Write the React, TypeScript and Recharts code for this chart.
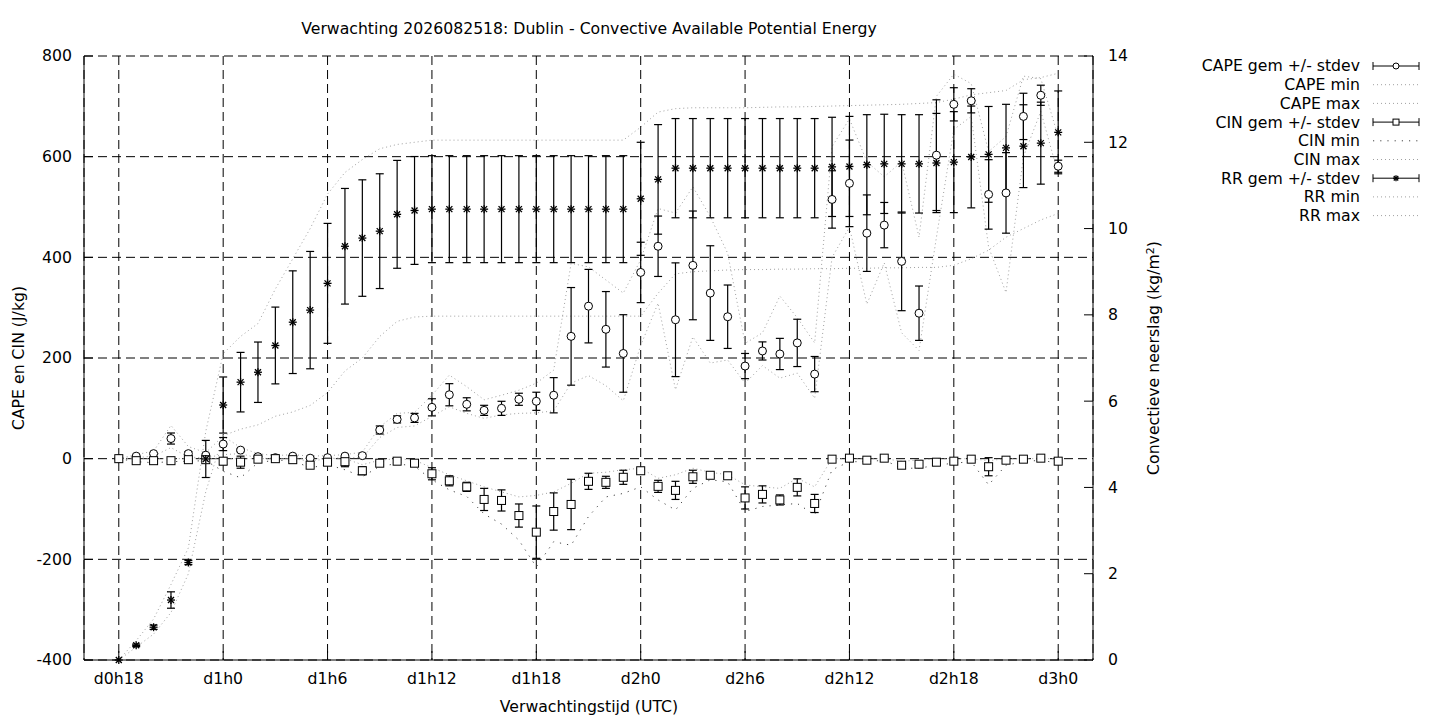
import { ComposedChart, Line, Scatter, ErrorBar, XAxis, YAxis, CartesianGrid } from "recharts";

// forecast hours since d0h0
const hours = [
  18, 19, 20, 21, 22, 23, 24, 25, 26, 27, 28, 29, 30, 31, 32, 33, 34, 35, 36,
  37, 38, 39, 40, 41, 42, 43, 44, 45, 46, 47, 48, 49, 50, 51, 52, 53, 54, 55,
  56, 57, 58, 59, 60, 61, 62, 63, 64, 65, 66, 67, 68, 69, 70, 71, 72,
];

// CAPE (J/kg)
const capeMean = [
  0, 5, 10, 40, 10, 7, 29, 17, 4, 2, 5, 1, 2, 5, 6, 57, 78, 81, 102,
  127, 108, 96, 100, 118, 114, 126, 243, 303, 257, 209, 370, 422, 276, 384, 329, 282, 184, 214,
  208, 230, 168, 515, 547, 448, 464, 392, 289, 603, 704, 711, 525, 528, 680, 722, 581,
];
const capeSd = [
  0, 2, 2, 11, 4, 3, 13, 3, 2, 2, 2, 1, 2, 2, 3, 8, 7, 9, 17,
  22, 13, 10, 14, 12, 18, 35, 97, 73, 75, 77, 60, 60, 113, 108, 94, 63, 25, 18,
  31, 47, 35, 57, 86, 76, 45, 98, 54, 110, 33, 24, 69, 80, 46, 20, 12,
];
const capeMin = [
  0, 2, 5, 22, 3, 2, 8, 10, 1, 0, 1, 0, 0, 2, 2, 42, 62, 65, 84,
  103, 90, 80, 87, 90, 91, 95, 150, 165, 145, 115, 225, 309, 137, 242, 190, 196, 150, 185,
  160, 170, 120, 400, 460, 307, 389, 250, 215, 440, 654, 680, 420, 330, 600, 690, 565,
];
const capeMax = [
  0, 8, 15, 66, 24, 12, 45, 22, 10, 6, 8, 5, 6, 8, 13, 63, 90, 92, 126,
  166, 143, 117, 126, 136, 150, 176, 388, 381, 355, 329, 395, 497, 488, 540, 481, 408, 229, 250,
  323, 280, 230, 620, 675, 590, 560, 590, 440, 720, 764, 745, 610, 640, 760, 755, 640,
];

// CIN (J/kg)
const cinMean = [
  0, -4, -4, -4, -2, -2, -5, -7, -1, 0, -2, -13, -7, -6, -24, -9, -5, -9, -30,
  -44, -56, -81, -83, -113, -146, -105, -91, -45, -47, -37, -24, -55, -63, -36, -33, -34, -78, -71,
  -82, -57, -89, -1, 1, -3, 1, -13, -11, -7, -5, -1, -16, -3, -1, 1, -5,
];
const cinSd = [
  1, 2, 1, 1, 2, 2, 7, 12, 2, 2, 2, 3, 3, 10, 8, 3, 2, 5, 12,
  10, 9, 22, 21, 23, 52, 37, 50, 16, 12, 14, 4, 12, 18, 13, 4, 3, 22, 17,
  10, 17, 18, 2, 2, 2, 2, 3, 3, 2, 2, 2, 18, 2, 2, 2, 2,
];
const cinMin = [
  0, -6, -8, -6, -5, -4, -25, -38, -8, -3, -4, -18, -12, -22, -36, -15, -10, -15, -42,
  -62, -75, -110, -130, -162, -215, -165, -172, -115, -76, -69, -56, -82, -102, -59, -42, -46, -105, -95,
  -92, -89, -112, -22, -6, -6, -3, -19, -19, -13, -9, -6, -52, -13, -6, -3, -9,
];
const cinMax = [
  0, 0, 0, 0, 0, 0, 0, 0, 0, 0, 0, -5, 0, 0, -12, -3, 0, -3, -18,
  -32, -44, -56, -66, -76, -73, -66, -49, -29, -27, -22, -19, -39, -32, -19, -27, -32, -52, -56,
  -59, -39, -56, 0, 0, 0, 0, -5, -3, 0, 0, 0, -4, 0, 0, 0, 0,
];

// convective precipitation (kg/m2)
const rrMean = [
  0, 0.34, 0.76, 1.39, 2.26, 4.66, 5.91, 6.44, 6.67, 7.29, 7.83, 8.11, 8.73, 9.59, 9.78, 9.94, 10.33, 10.42, 10.45,
  10.45, 10.45, 10.45, 10.45, 10.45, 10.45, 10.45, 10.45, 10.45, 10.45, 10.45, 10.69, 11.14, 11.4, 11.4, 11.4, 11.4, 11.4, 11.4,
  11.4, 11.4, 11.4, 11.43, 11.44, 11.48, 11.5, 11.5, 11.5, 11.52, 11.54, 11.66, 11.72, 11.87, 11.91, 11.98, 12.23,
];
const rrSd = [
  0, 0.03, 0.05, 0.19, 0.05, 0.43, 0.65, 0.69, 0.7, 0.89, 1.19, 1.36, 1.39, 1.34, 1.35, 1.33, 1.25, 1.25, 1.24,
  1.24, 1.24, 1.24, 1.24, 1.24, 1.24, 1.24, 1.24, 1.24, 1.24, 1.24, 1.31, 1.27, 1.15, 1.15, 1.15, 1.15, 1.15, 1.15,
  1.15, 1.15, 1.15, 1.15, 1.16, 1.16, 1.15, 1.14, 1.14, 1.15, 1.17, 1.18, 1.11, 1.01, 0.96, 0.95, 0.96,
];
const rrMin = [
  0, 0.3, 0.6, 1.1, 2.0, 3.9, 5.2, 5.35, 5.45, 5.65, 5.75, 5.9, 6.2, 6.7, 7.0, 7.5, 7.85, 7.95, 7.97,
  7.97, 7.97, 7.97, 7.97, 7.97, 7.97, 7.97, 7.97, 7.97, 7.97, 7.97, 7.97, 8.5, 8.95, 9.0, 9.02, 9.04, 9.05, 9.05,
  9.06, 9.06, 9.07, 9.07, 9.08, 9.08, 9.09, 9.09, 9.1, 9.1, 9.15, 9.3, 9.5, 9.8, 10.0, 10.2, 10.35,
];
const rrMax = [
  0, 0.45, 0.95, 1.75, 2.6, 5.3, 7.1, 7.5, 7.8, 8.6, 9.3, 10.0, 10.8, 11.3, 11.6, 11.85, 11.95, 12.0, 12.05,
  12.05, 12.05, 12.05, 12.05, 12.05, 12.05, 12.05, 12.05, 12.05, 12.05, 12.05, 12.35, 12.7, 12.78, 12.8, 12.8, 12.8, 12.8, 12.81,
  12.82, 12.82, 12.83, 12.84, 12.85, 12.86, 12.87, 12.88, 12.9, 12.92, 13.0, 13.1, 13.15, 13.2, 13.45, 13.5, 13.6,
];

const xTicks = [18, 24, 30, 36, 42, 48, 54, 60, 66, 72];
const xTickLabels = ["d0h18", "d1h0", "d1h6", "d1h12", "d1h18", "d2h0", "d2h6", "d2h12", "d2h18", "d3h0"];
const leftTicks = [-400, -200, 0, 200, 400, 600, 800];
const rightTicks = [0, 2, 4, 6, 8, 10, 12, 14];

const legendItems = [
  { label: "CAPE gem +/- stdev", kind: "circle" },
  { label: "CAPE min", kind: "dot" },
  { label: "CAPE max", kind: "dot" },
  { label: "CIN gem +/- stdev", kind: "square" },
  { label: "CIN min", kind: "dark" },
  { label: "CIN max", kind: "dot" },
  { label: "RR gem +/- stdev", kind: "star" },
  { label: "RR min", kind: "dot" },
  { label: "RR max", kind: "dot" },
];

const rows = hours.map((h, i) => ({
  h,
  cape: capeMean[i],
  capeSd: capeSd[i],
  capeMin: capeMin[i],
  capeMax: capeMax[i],
  cin: cinMean[i],
  cinSd: cinSd[i],
  cinMin: cinMin[i],
  cinMax: cinMax[i],
  rr: rrMean[i],
  rrSd: rrSd[i],
  rrMin: rrMin[i],
  rrMax: rrMax[i],
}));

const FONT = "'DejaVu Sans', sans-serif";
const FS = 15.7;
const GRAY = "#a0a0a0";

function Circ({ cx, cy, r = 4 }: any) {
  return <circle cx={cx} cy={cy} r={r} fill="#fff" stroke="#000" strokeWidth={1} />;
}
function Sq({ cx, cy, r = 4 }: any) {
  return <rect x={cx - r} y={cy - r} width={2 * r} height={2 * r} fill="#fff" stroke="#000" strokeWidth={1} />;
}
function Star({ cx, cy, r = 4 }: any) {
  const d = r * 0.75;
  return (
    <g stroke="#000" strokeWidth={1.3}>
      <line x1={cx - r} x2={cx + r} y1={cy} y2={cy} />
      <line x1={cx} x2={cx} y1={cy - r} y2={cy + r} />
      <line x1={cx - d} x2={cx + d} y1={cy - d} y2={cy + d} />
      <line x1={cx - d} x2={cx + d} y1={cy + d} y2={cy - d} />
    </g>
  );
}

const LeftTick = (p: any) => (
  <g>
    <line x1={p.x + 12} x2={p.x + 21} y1={p.y} y2={p.y} stroke="#000" />
    <text x={p.x} y={p.y} dy="0.35em" textAnchor="end" fontSize={FS} fontFamily={FONT} fill="#000">
      {p.payload.value}
    </text>
  </g>
);
const RightTick = (p: any) => (
  <g>
    <line x1={p.x - 15} x2={p.x - 24} y1={p.y} y2={p.y} stroke="#000" />
    <text x={p.x} y={p.y} dy="0.35em" textAnchor="start" fontSize={FS} fontFamily={FONT} fill="#000">
      {p.payload.value}
    </text>
  </g>
);
const BottomTick = (p: any) => (
  <g>
    <line x1={p.x} x2={p.x} y1={p.y - 13} y2={p.y - 22} stroke="#000" />
    <text x={p.x} y={p.y} dy="0.71em" textAnchor="middle" fontSize={FS} fontFamily={FONT} fill="#000">
      {xTickLabels[xTicks.indexOf(p.payload.value)]}
    </text>
  </g>
);

function Legend() {
  return (
    <svg width={1440} height={720} style={{ position: "absolute", left: 0, top: 0, pointerEvents: "none" }}>
      <text x={589} y={34} textAnchor="middle" fontSize={FS} fontFamily={FONT}>
        Verwachting 2026082518: Dublin - Convective Available Potential Energy
      </text>
      <text x={589} y={712} textAnchor="middle" fontSize={FS} fontFamily={FONT}>
        Verwachtingstijd (UTC)
      </text>
      <text transform="translate(24,358) rotate(-90)" textAnchor="middle" fontSize={FS} fontFamily={FONT}>
        CAPE en CIN (J/kg)
      </text>
      <text transform="translate(1159,358) rotate(-90)" textAnchor="middle" fontSize={FS} fontFamily={FONT}>
        Convectieve neerslag (kg/m<tspan dy={-5} fontSize={11}>2</tspan><tspan dy={5}>)</tspan>
      </text>
      {legendItems.map((it, i) => {
        const y = 66 + i * 18.7;
        const isBar = it.kind === "circle" || it.kind === "square" || it.kind === "star";
        return (
          <g key={it.label}>
            <text x={1360} y={y} dy="0.35em" textAnchor="end" fontSize={FS} fontFamily={FONT}>
              {it.label}
            </text>
            {isBar ? (
              <g stroke="#000" strokeWidth={1}>
                <line x1={1373} x2={1419} y1={y} y2={y} />
                <line x1={1373} x2={1373} y1={y - 4} y2={y + 4} />
                <line x1={1419} x2={1419} y1={y - 4} y2={y + 4} />
                {it.kind === "circle" && <Circ cx={1396} cy={y} r={3} />}
                {it.kind === "square" && <Sq cx={1396} cy={y} r={3} />}
                {it.kind === "star" && <Star cx={1396} cy={y} r={3} />}
              </g>
            ) : (
              <line
                x1={1373}
                x2={1419}
                y1={y}
                y2={y}
                stroke={it.kind === "dark" ? "#444" : GRAY}
                strokeDasharray={it.kind === "dark" ? "1.2 6" : "1 3"}
              />
            )}
          </g>
        );
      })}
    </svg>
  );
}

const dotted = (key: string, axis: string, dark = false) => (
  <Line
    key={key}
    dataKey={key}
    xAxisId="x"
    yAxisId={axis}
    type="linear"
    dot={false}
    activeDot={false}
    stroke={dark ? "#444" : GRAY}
    strokeWidth={1}
    strokeDasharray={dark ? "1.2 6" : "1 3"}
    isAnimationActive={false}
  />
);

export default function App() {
  return (
    <div style={{ position: "absolute", left: 0, top: 0, width: 1440, height: 720, background: "#fff" }}>
      <ComposedChart
        width={1440}
        height={720}
        data={rows}
        margin={{ top: 56, right: 287, bottom: 30, left: 24 }}
        style={{ fontFamily: FONT }}
      >
        <CartesianGrid xAxisId="x" yAxisId="l" stroke="#000" strokeDasharray="9 5" strokeWidth={1} />
        <XAxis
          xAxisId="x"
          dataKey="h"
          type="number"
          domain={[16, 74]}
          ticks={xTicks}
          tickSize={0}
          tickMargin={13}
          height={30}
          axisLine={{ stroke: "#000" }}
          tick={<BottomTick />}
        />
        <XAxis
          xAxisId="top"
          orientation="top"
          dataKey="h"
          type="number"
          domain={[16, 74]}
          height={0}
          tick={false}
          tickLine={false}
          axisLine={{ stroke: "#000" }}
        />
        <YAxis
          yAxisId="l"
          type="number"
          domain={[-400, 800]}
          ticks={leftTicks}
          width={60}
          tickSize={0}
          tickMargin={12}
          axisLine={{ stroke: "#000" }}
          tick={<LeftTick />}
        />
        <YAxis
          yAxisId="r"
          orientation="right"
          type="number"
          domain={[0, 14]}
          ticks={rightTicks}
          width={60}
          tickSize={0}
          tickMargin={15}
          axisLine={{ stroke: "#000" }}
          tick={<RightTick />}
        />

        {dotted("capeMin", "l")}
        {dotted("capeMax", "l")}
        {dotted("cinMin", "l", true)}
        {dotted("cinMax", "l")}
        {dotted("rrMin", "r")}
        {dotted("rrMax", "r")}

        <Scatter dataKey="cape" xAxisId="x" yAxisId="l" shape={<Circ />} isAnimationActive={false}>
          <ErrorBar dataKey="capeSd" direction="y" width={4} stroke="#000" strokeWidth={1.2} />
        </Scatter>
        <Scatter dataKey="cin" xAxisId="x" yAxisId="l" shape={<Sq />} isAnimationActive={false}>
          <ErrorBar dataKey="cinSd" direction="y" width={4} stroke="#000" strokeWidth={1.2} />
        </Scatter>
        <Scatter dataKey="rr" xAxisId="x" yAxisId="r" shape={<Star />} isAnimationActive={false}>
          <ErrorBar dataKey="rrSd" direction="y" width={4} stroke="#000" strokeWidth={1.2} />
        </Scatter>
      </ComposedChart>
      <Legend />
    </div>
  );
}
